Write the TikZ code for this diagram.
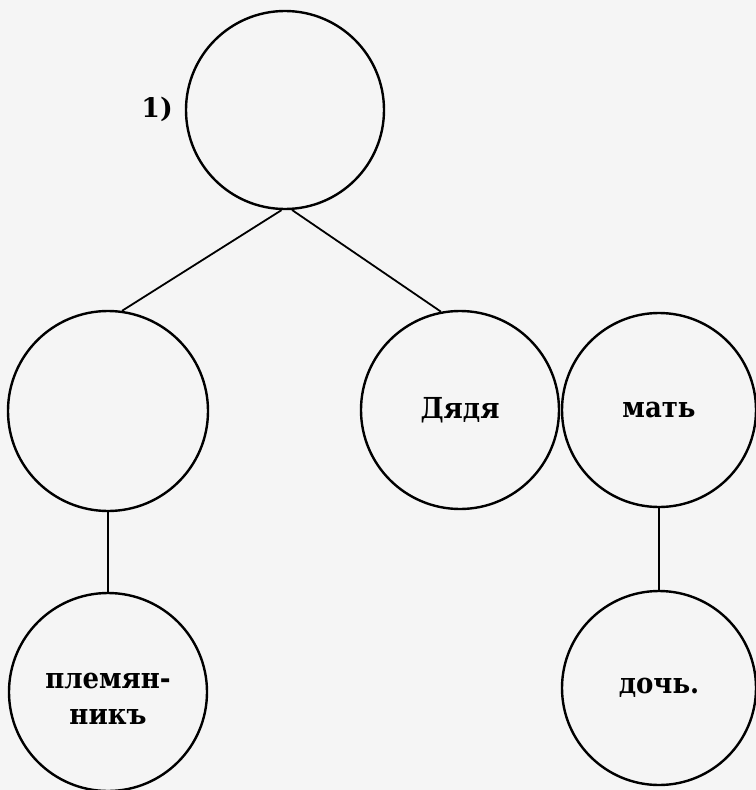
\documentclass[tikz,border=0pt]{standalone}
\usepackage{fontspec}
\setmainfont{DejaVu Serif}
\newfontfamily\condserif{DejaVu Serif Condensed}
\begin{document}
\begin{tikzpicture}[x=1bp,y=-1bp,
  person/.style={circle,draw=black,line width=2.4bp,inner sep=0pt,font=\condserif\fontsize{29}{35}\selectfont\bfseries,align=center},
  persontext/.style={inner sep=0pt,font=\condserif\fontsize{29}{36}\selectfont\bfseries,align=center},
  link/.style={draw=black,line width=1.8bp}]
\fill[black!4] (0,0) rectangle (756,790);
\useasboundingbox (0,0) rectangle (756,790);
\node[person,minimum size=198bp] (top) at (285,110) {};
\node[font=\fontsize{27}{30}\selectfont\bfseries] (num) at (157,109) {1)};
\node[person,minimum size=200bp] (lm) at (108,411) {};
\node[person,minimum size=198bp] (dyadya) at (460,410) {Дядя};
\node[person,minimum size=194bp] (mat) at (659,410) {мать};
\node[person,minimum size=198bp] (plem) at (108,692) {};
\node[persontext] (plemtext) at ([yshift=-7bp]plem.center) {племян-\\никъ};
\node[person,minimum size=194bp] (doch) at (659,688) {дочь.};
\draw[link] (top.-92) -- (lm.82);
\draw[link] (top.-86) -- (dyadya.101);
\draw[link] (lm.south) -- (plem.north);
\draw[link] (mat.south) -- (doch.north);
\end{tikzpicture}
\end{document}
